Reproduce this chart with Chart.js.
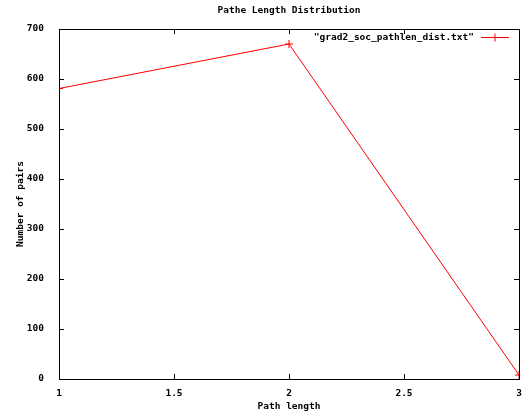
<!DOCTYPE html>
<html>
<head>
<meta charset="utf-8">
<script src="https://cdn.jsdelivr.net/npm/chart.js@4"></script>
<style>
  html, body { margin: 0; padding: 0; background: #fff; }
  #wrap { width: 524px; height: 417px; }
</style>
</head>
<body>
<div id="wrap"><canvas id="chart" width="524" height="417"></canvas></div>
<script>
// Distribuição do comprimento de caminhos (estilo gnuplot)
const pathLengths = [1, 2, 3];
const pairCounts = [581, 670, 8];
const seriesLabel = '"grad2_soc_pathlen_dist.txt"';
const xTicks = [1, 1.5, 2, 2.5, 3];
const yTicks = [0, 100, 200, 300, 400, 500, 600, 700];

const FONT = { family: '"DejaVu Sans Mono", "Liberation Mono", monospace', size: 9.5, weight: 'bold' };
const RED = '#ff0000';

// borda + ticks para dentro, como no gnuplot
const gnuplotFrame = {
  id: 'gnuplotFrame',
  afterDraw(chart) {
    const { ctx, chartArea: a, scales } = chart;
    ctx.save();
    ctx.strokeStyle = '#000';
    ctx.lineWidth = 1;
    ctx.strokeRect(a.left + 0.5, a.top + 0.5, a.right - a.left, a.bottom - a.top);
    ctx.beginPath();
    xTicks.forEach(v => {
      const px = Math.round(scales.x.getPixelForValue(v)) + 0.5;
      ctx.moveTo(px, a.bottom); ctx.lineTo(px, a.bottom - 5);
      ctx.moveTo(px, a.top); ctx.lineTo(px, a.top + 5);
    });
    yTicks.forEach(v => {
      const py = Math.round(scales.y.getPixelForValue(v)) + 0.5;
      ctx.moveTo(a.left, py); ctx.lineTo(a.left + 5, py);
      ctx.moveTo(a.right, py); ctx.lineTo(a.right - 5, py);
    });
    ctx.stroke();

    // legenda dentro da área, canto superior direito
    const ly = a.top + 8.5;
    ctx.font = `${FONT.weight} ${FONT.size}px ${FONT.family}`;
    ctx.fillStyle = '#000';
    ctx.textAlign = 'right';
    ctx.textBaseline = 'middle';
    ctx.fillText(chart.data.datasets[0].label, a.right - 45, ly);
    ctx.strokeStyle = RED;
    ctx.beginPath();
    ctx.moveTo(a.right - 38, ly); ctx.lineTo(a.right - 10, ly);
    ctx.moveTo(a.right - 24, ly - 4); ctx.lineTo(a.right - 24, ly + 4);
    ctx.stroke();
    ctx.restore();
  }
};

new Chart(document.getElementById('chart'), {
  type: 'line',
  data: {
    datasets: [{
      label: seriesLabel,
      data: pathLengths.map((x, i) => ({ x, y: pairCounts[i] })),
      borderColor: RED,
      borderWidth: 1,
      pointStyle: 'cross',
      pointRadius: 4,
      pointBorderColor: RED,
      pointBorderWidth: 1,
      tension: 0,
      fill: false
    }]
  },
  options: {
    responsive: false,
    animation: false,
    layout: { padding: { left: 0, right: 0, top: 0, bottom: 0 } },
    plugins: {
      legend: { display: false },
      tooltip: { enabled: false },
      title: {
        display: true,
        text: 'Pathe Length Distribution',
        fullSize: false,
        color: '#000',
        font: FONT,
        padding: { top: 5, bottom: 12.6 }
      }
    },
    scales: {
      x: {
        type: 'linear',
        min: 1,
        max: 3,
        afterBuildTicks: s => { s.ticks = xTicks.map(value => ({ value })); },
        afterFit: s => { s.height = 38; },
        grid: { display: false },
        border: { display: false },
        ticks: { color: '#000', font: FONT, padding: 1, maxRotation: 0, callback: v => String(v) },
        title: { display: true, text: 'Path length', color: '#000', font: FONT, padding: { top: 0, bottom: 5 } }
      },
      y: {
        min: 0,
        max: 700,
        afterBuildTicks: s => { s.ticks = yTicks.map(value => ({ value })); },
        afterFit: s => { s.width = 59; },
        grid: { display: false },
        border: { display: false },
        ticks: { color: '#000', font: FONT, padding: 7 },
        title: { display: true, text: 'Number of pairs', color: '#000', font: FONT, padding: { top: 15, bottom: 0 } }
      }
    }
  },
  plugins: [gnuplotFrame]
});
</script>
</body>
</html>
